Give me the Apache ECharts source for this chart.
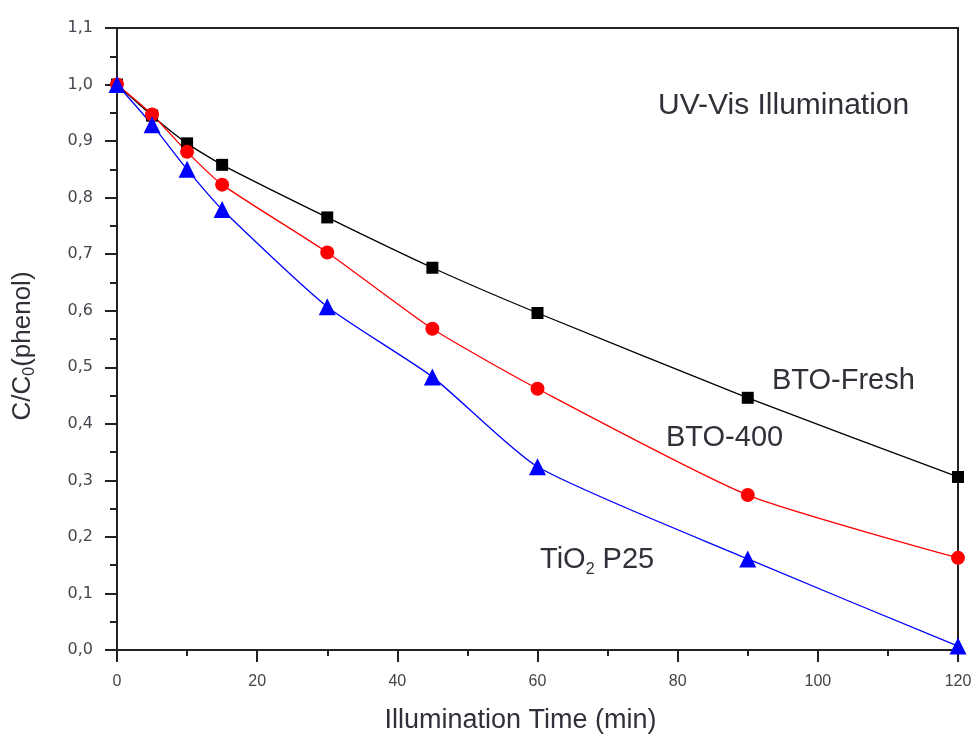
<!DOCTYPE html>
<html lang="en">
<head>
  <meta charset="UTF-8">
  <title>Phenol degradation</title>
  <script src="https://cdn.jsdelivr.net/npm/echarts@6/dist/echarts.min.js"></script>
  <style>
    html, body {margin: 0; padding: 0; background: #fff;}
  </style>
</head>
<body>
<div id="main" style="width: 979px;height:744px;"></div>
<script type="text/javascript">
  const times = [0, 5, 10, 15, 30, 45, 60, 90, 120]
  const btoFresh = [1.0, 0.945, 0.896, 0.858, 0.765, 0.676, 0.596, 0.446, 0.306]
  const bto400 = [1.0, 0.947, 0.881, 0.823, 0.703, 0.568, 0.462, 0.274, 0.163]
  const tio2 = [1.0, 0.929, 0.85, 0.779, 0.607, 0.483, 0.324, 0.161, 0.007]

  const pairs = (ys) => times.map((t, i) => [t, ys[i]])
  const comma = (v) => v.toFixed(1).replace('.', ',')

  const Chart = echarts.init(document.getElementById('main'));
  const font = 'Liberation Sans, Arial, sans-serif'
  const txt = '#332f38'

  const option = {
    backgroundColor: '#fff',
    animation: false,
    grid: {
      left: 117, right: 21, top: 28, bottom: 94,
      show: true, borderColor: '#222', borderWidth: 2
    },
    xAxis: {
      type: 'value',
      min: 0, max: 120, interval: 20,
      name: 'Illumination Time (min)',
      nameLocation: 'middle',
      nameGap: 57,
      nameTextStyle: {fontFamily: font, fontSize: 27, color: txt, padding: [0, 34, 0, 0]},
      axisLine: {lineStyle: {color: '#222', width: 2}},
      axisTick: {inside: false, length: 12, lineStyle: {color: '#222', width: 2}},
      minorTick: {show: true, splitNumber: 2, length: 6, lineStyle: {color: '#222', width: 2}},
      axisLabel: {fontFamily: font, fontSize: 16, color: '#444', margin: 24},
      splitLine: {show: false}
    },
    yAxis: {
      type: 'value',
      min: 0, max: 1.1, interval: 0.1,
      name: '{a|C/C}{s|0}{a|(phenol)}',
      nameLocation: 'middle',
      nameGap: 79,
      nameRotate: 90,
      nameTextStyle: {
        padding: [0, 14, 0, 0],
        rich: {
          a: {fontFamily: font, fontSize: 26, color: txt},
          s: {fontFamily: font, fontSize: 16, color: txt, verticalAlign: 'bottom', padding: [14, 0, 0, 0]}
        }
      },
      axisLine: {lineStyle: {color: '#222', width: 2}},
      axisTick: {inside: false, length: 12, lineStyle: {color: '#222', width: 2}},
      minorTick: {show: true, splitNumber: 2, length: 7, lineStyle: {color: '#222', width: 2}},
      axisLabel: {fontFamily: 'DejaVu Sans, sans-serif', fontSize: 16, color: '#4a4450', margin: 24, formatter: comma},
      splitLine: {show: false}
    },
    series: [
      {
        name: 'BTO-Fresh', type: 'line', data: pairs(btoFresh), smooth: 0.2,
        symbol: 'rect', symbolSize: 12,
        itemStyle: {color: '#000'}, lineStyle: {color: '#000', width: 1.3}
      },
      {
        name: 'BTO-400', type: 'line', data: pairs(bto400), smooth: 0.2,
        symbol: 'circle', symbolSize: 14,
        itemStyle: {color: '#ff0000'}, lineStyle: {color: '#ff0000', width: 1.3}
      },
      {
        name: 'TiO2 P25', type: 'line', data: pairs(tio2), smooth: 0.2,
        symbol: 'triangle', symbolSize: 17,
        itemStyle: {color: '#0000ff'}, lineStyle: {color: '#0000ff', width: 1.3}
      }
    ],
    graphic: [
      {type: 'text', x: 658, y: 106, style: {text: 'UV-Vis Illumination', fontFamily: font, fontSize: 30, fill: txt, verticalAlign: 'middle'}},
      {type: 'text', x: 772, y: 381, style: {text: 'BTO-Fresh', fontFamily: font, fontSize: 29, fill: txt, verticalAlign: 'middle'}},
      {type: 'text', x: 666, y: 438, style: {text: 'BTO-400', fontFamily: font, fontSize: 29, fill: txt, verticalAlign: 'middle'}},
      {
        type: 'text', x: 540, y: 542,
        style: {
          text: '{a|TiO}{s|2}{a| P25}',
          rich: {
            a: {fontFamily: font, fontSize: 29, fill: txt},
            s: {fontFamily: font, fontSize: 16, fill: txt, padding: [20, 0, 0, 0]}
          }
        }
      }
    ]
  };

  Chart.setOption(option)
</script>
</body>
</html>
